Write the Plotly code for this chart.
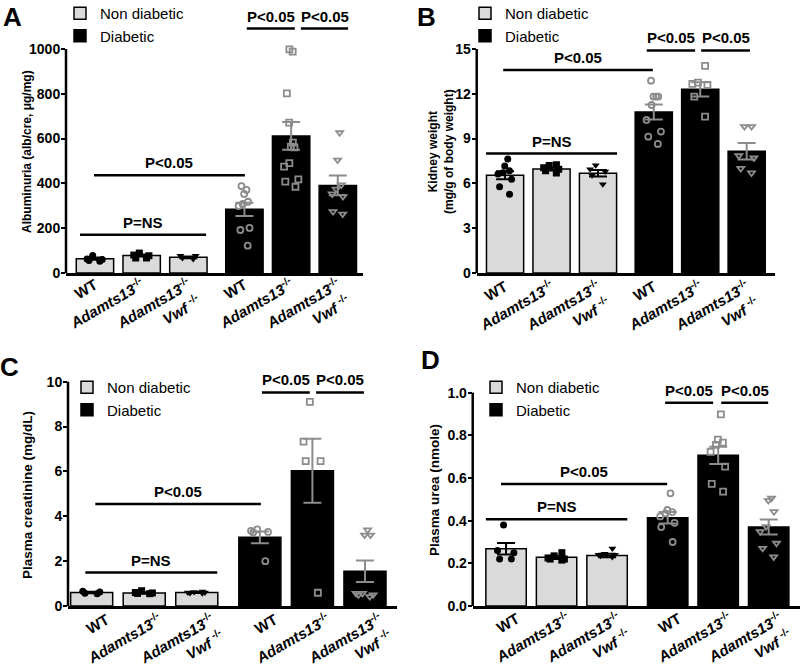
import plotly.graph_objects as go

# ---------------- data ----------------
GROUP_LABELS = ["WT",
                "<i>Adamts13</i><sup>-/-</sup>",
                "<i>Adamts13</i><sup>-/-</sup><br><i>Vwf</i> <sup>-/-</sup>"]
TICK_TEXT = GROUP_LABELS + GROUP_LABELS
X_POS = [0, 1, 2, 3.2, 4.2, 5.2]

# Panel A: Albuminuria
A_ND_MEAN = [64, 78, 70]
A_ND_SEM = [5, 4, 4]
A_D_MEAN = [284, 612, 391]
A_D_SEM = [30, 62, 44]
A_ND_PTS = [[78, 60, 52, 56, 63], [89, 77, 67, 67, 80], [77, 67, 62, 77]]
A_D_PTS = [[388, 371, 353, 318, 308, 299, 201, 192, 122],
           [998, 988, 802, 671, 582, 564, 561, 490, 475, 418, 408, 385],
           [626, 504, 393, 374, 353, 341, 274, 263]]

# Panel B: Kidney weight
B_ND_MEAN = [6.55, 6.97, 6.68]
B_ND_SEM = [0.27, 0.1, 0.22]
B_D_MEAN = [10.78, 12.3, 8.15]
B_D_SEM = [0.5, 0.48, 0.55]
B_ND_PTS = [[7.63, 7.17, 6.85, 6.72, 6.63, 6.27, 5.78, 5.27],
            [7.25, 7.2, 7.05, 6.95, 6.85, 6.7],
            [7.22, 6.95, 6.8, 6.55, 5.95]]
B_D_PTS = [[12.88, 11.81, 11.81, 11.81, 11.25, 10.25, 9.47, 9.13, 8.64],
           [13.87, 12.75, 12.66, 12.59, 11.81, 10.47],
           [9.8, 9.8, 7.85, 7.7, 7.0, 6.7]]

# Panel C: Plasma creatinine
C_ND_MEAN = [0.6, 0.58, 0.6]
C_ND_SEM = [0.03, 0.03, 0.02]
C_D_MEAN = [3.06, 6.03, 1.55]
C_D_SEM = [0.26, 1.43, 0.48]
C_ND_PTS = [[0.66, 0.57, 0.55, 0.62],
            [0.68, 0.6, 0.55, 0.56, 0.58],
            [0.65, 0.62, 0.6, 0.58, 0.57, 0.6]]
C_D_PTS = [[3.42, 3.35, 3.3, 3.28, 2.0],
           [9.1, 7.33, 6.46, 6.46, 0.59],
           [3.39, 3.16, 3.16, 0.56, 0.5, 0.42, 0.5, 0.56]]

# Panel D: Plasma urea
D_ND_MEAN = [0.268, 0.228, 0.237]
D_ND_SEM = [0.027, 0.008, 0.008]
D_D_MEAN = [0.414, 0.706, 0.37]
D_D_SEM = [0.027, 0.04, 0.035]
D_ND_PTS = [[0.38, 0.26, 0.25, 0.22, 0.22],
            [0.25, 0.235, 0.225, 0.22, 0.215, 0.22],
            [0.27, 0.245, 0.24, 0.235, 0.23, 0.24]]
D_D_PTS = [[0.528, 0.45, 0.44, 0.434, 0.42, 0.39, 0.37, 0.30],
           [0.898, 0.78, 0.766, 0.755, 0.723, 0.653, 0.572, 0.536],
           [0.505, 0.494, 0.442, 0.372, 0.348, 0.294, 0.27, 0.23]]

Y_TITLES = ["Albuminuria (alb/cre, μg/mg)",
            "Kidney weight<br>(mg/g of body weight)",
            "Plasma creatinine (mg/dL)",
            "Plasma urea (nmole)"]
Y_TICKS = [[0, 200, 400, 600, 800, 1000],
           [0, 3, 6, 9, 12, 15],
           [0, 2, 4, 6, 8, 10],
           [0.0, 0.2, 0.4, 0.6, 0.8, 1.0]]
PANEL_LETTERS = ["A", "B", "C", "D"]

# significance brackets: (x0, x1, y, text)
A_SIG = [(-0.32, 2.38, 171, "P=NS"), (-0.02, 3.21, 436, "P<0.05"),
         (3.25, 4.28, 1091, "P<0.05"), (4.41, 5.42, 1091, "P<0.05")]
B_SIG = [(-0.41, 2.41, 8.0, "P=NS"), (-0.04, 3.18, 13.6, "P<0.05"),
         (3.05, 4.09, 14.9, "P<0.05"), (4.22, 5.27, 14.9, "P<0.05")]
C_SIG = [(-0.12, 2.39, 1.49, "P=NS"), (0.07, 3.22, 4.55, "P<0.05"),
         (3.24, 4.15, 9.52, "P<0.05"), (4.27, 5.18, 9.52, "P<0.05")]
D_SIG = [(-0.4, 2.4, 0.406, "P=NS"), (-0.1, 3.19, 0.572, "P<0.05"),
         (3.15, 4.1, 0.953, "P<0.05"), (4.26, 5.19, 0.953, "P<0.05")]

# ---------------- layout / styling ----------------
FONT = "Liberation Sans, Arial, sans-serif"
ND_FILL = "#dadada"
GREY = "#8c8c8c"
SYMBOLS = ["circle", "square", "triangle-down"]

panels = [
    dict(nd_mean=A_ND_MEAN, nd_sem=A_ND_SEM, d_mean=A_D_MEAN, d_sem=A_D_SEM,
         nd_pts=A_ND_PTS, d_pts=A_D_PTS, sig=A_SIG,
         xdom=[0.0825, 0.4538], ydom=[0.5901, 0.985],
         xr=[-0.62, 5.74], yr=[0, 1174], fmt="",
         title_xy=(27, 152), title_size=12, lshift=0, lstand=-5,
         letter_x=12, letter_top=0, leg_xy=(60, -3)),
    dict(nd_mean=B_ND_MEAN, nd_sem=B_ND_SEM, d_mean=B_D_MEAN, d_sem=B_D_SEM,
         nd_pts=B_ND_PTS, d_pts=B_D_PTS, sig=B_SIG,
         xdom=[0.5959, 0.9688], ydom=[0.5901, 0.985],
         xr=[-0.61, 5.81], yr=[0, 17.61], fmt="",
         title_xy=(441, 152), title_size=12, lshift=0, lstand=-3,
         letter_x=427, letter_top=0, leg_xy=(465, -3)),
    dict(nd_mean=C_ND_MEAN, nd_sem=C_ND_SEM, d_mean=C_D_MEAN, d_sem=C_D_SEM,
         nd_pts=C_ND_PTS, d_pts=C_D_PTS, sig=C_SIG,
         xdom=[0.085, 0.4963], ydom=[0.0901, 0.4444],
         xr=[-0.45, 5.81], yr=[0, 10.52], fmt="",
         title_xy=(27, 495), title_size=13.5, lshift=15, lstand=-3,
         letter_x=9, letter_top=350, leg_xy=(67, 371)),
    dict(nd_mean=D_ND_MEAN, nd_sem=D_ND_SEM, d_mean=D_D_MEAN, d_sem=D_D_SEM,
         nd_pts=D_ND_PTS, d_pts=D_D_PTS, sig=D_SIG,
         xdom=[0.5909, 1.0], ydom=[0.0901, 0.4444],
         xr=[-0.66, 5.82], yr=[0, 1.106], fmt=".1f",
         title_xy=(434, 490), title_size=13.5, lshift=11, lstand=-4,
         letter_x=430, letter_top=343, leg_xy=(476, 371)),
]

W, H = 800, 666
fig = go.Figure()
shapes = []
annotations = []
layout_extra = {}

for i, p in enumerate(panels):
    n = i + 1
    sfx = "" if n == 1 else str(n)
    xa, ya = "x" + sfx, "y" + sfx
    leg = "legend" + sfx

    # bars
    fig.add_trace(go.Bar(
        x=X_POS[:3], y=p["nd_mean"], width=0.8, name="Non diabetic",
        marker=dict(color=ND_FILL, line=dict(color="black", width=1.5)),
        error_y=dict(type="data", array=p["nd_sem"], color="black",
                     thickness=2, width=9),
        xaxis=xa, yaxis=ya, legend=leg, showlegend=True))
    fig.add_trace(go.Bar(
        x=X_POS[3:], y=p["d_mean"], width=0.8, name="Diabetic",
        marker=dict(color="black", line=dict(color="black", width=1.5)),
        error_y=dict(type="data", array=p["d_sem"], color=GREY,
                     thickness=2, width=9),
        xaxis=xa, yaxis=ya, legend=leg, showlegend=True))

    # individual points (library jitter)
    for g in range(3):
        for diab in (False, True):
            pts = p["d_pts"][g] if diab else p["nd_pts"][g]
            xpos = X_POS[g + 3] if diab else X_POS[g]
            if diab:
                mk = dict(symbol=SYMBOLS[g] + "-open", color=GREY, size=6,
                          line=dict(width=1.8, color=GREY))
            else:
                mk = dict(symbol=SYMBOLS[g], color="black", size=7,
                          line=dict(width=0))
            fig.add_trace(go.Box(
                x=[xpos] * len(pts), y=pts, boxpoints="all", jitter=0.8,
                pointpos=0, width=0.5, fillcolor="rgba(0,0,0,0)",
                line=dict(width=0, color="rgba(0,0,0,0)"), marker=mk,
                xaxis=xa, yaxis=ya, showlegend=False, hoveron="points"))

    # axes
    layout_extra["xaxis" + sfx] = dict(
        domain=p["xdom"], range=p["xr"], anchor=ya, showline=True,
        linecolor="black", linewidth=2.5, ticks="", showgrid=False,
        zeroline=False, tickvals=X_POS, ticktext=TICK_TEXT, tickangle=-30,
        ticklabelshift=p["lshift"], ticklabelstandoff=p["lstand"],
        automargin=False, ticklabeloverflow="allow",
        tickfont=dict(family=FONT, size=15, color="black", weight="bold"))
    layout_extra["yaxis" + sfx] = dict(
        domain=p["ydom"], range=p["yr"], anchor=xa, showline=False,
        ticks="outside", ticklen=4, tickwidth=2, tickcolor="black",
        ticklabelstandoff=-2,
        showgrid=False, zeroline=False, tickvals=Y_TICKS[i],
        tickformat=p["fmt"], automargin=False,
        tickfont=dict(family=FONT, size=14, color="black", weight="bold"))

    # y-axis title (placed as rotated text beside the axis)
    tx, ty = p["title_xy"]
    annotations.append(dict(x=tx / W, y=1 - ty / H, xref="paper", yref="paper",
                            text=Y_TITLES[i], showarrow=False, textangle=-90,
                            xanchor="center", yanchor="middle",
                            font=dict(family=FONT, size=p["title_size"],
                                      color="black", weight="bold")))

    # legend
    lx, ly = p["leg_xy"]
    layout_extra[leg] = dict(
        x=lx / W, y=1 - ly / H, xanchor="left", yanchor="top",
        bgcolor="rgba(0,0,0,0)", tracegroupgap=0,
        font=dict(family=FONT, size=15, color="black"))

    # y-axis line (only up to the top tick)
    shapes.append(dict(type="line", xref=xa + " domain", yref=ya,
                       x0=0, x1=0, y0=0, y1=Y_TICKS[i][-1],
                       line=dict(color="black", width=2.5)))

    # significance brackets
    for (x0, x1, yv, txt) in p["sig"]:
        shapes.append(dict(type="line", xref=xa, yref=ya, x0=x0, x1=x1,
                           y0=yv, y1=yv, line=dict(color="black", width=2.5)))
        annotations.append(dict(x=(x0 + x1) / 2, y=yv, xref=xa, yref=ya,
                                text=txt, showarrow=False, yanchor="bottom",
                                yshift=2,
                                font=dict(family=FONT, size=15, color="black",
                                          weight="bold")))

    # panel letter
    annotations.append(dict(x=p["letter_x"] / W, y=1 - p["letter_top"] / H,
                            xref="paper", yref="paper",
                            text=PANEL_LETTERS[i], showarrow=False,
                            xanchor="center", yanchor="top",
                            font=dict(family=FONT, size=26, color="black",
                                      weight="bold")))

fig.update_layout(
    width=W, height=H, margin=dict(l=0, r=0, t=0, b=0, pad=0, autoexpand=False),
    plot_bgcolor="white", paper_bgcolor="white", barmode="overlay",
    boxmode="overlay", font=dict(family=FONT, color="black"),
    shapes=shapes, annotations=annotations, **layout_extra)

fig.write_html("out.html", config={"displayModeBar": False},
               post_script="document.body.style.margin='0px';")
